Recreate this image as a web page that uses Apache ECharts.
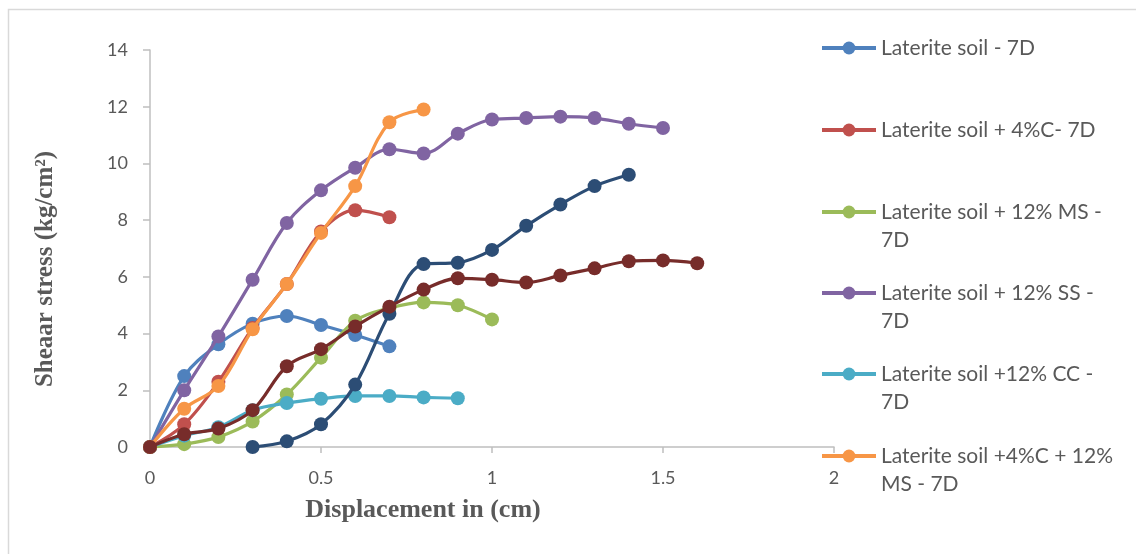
<!DOCTYPE html>
<html>
<head>
<meta charset="utf-8">
<script src="https://cdn.jsdelivr.net/npm/echarts@6/dist/echarts.min.js"></script>
<style>html,body{margin:0;padding:0;background:#fff}#c{width:1136px;height:554px}</style>
</head>
<body>
<div id="c"></div>
<script>
// ---- data ----
const xTicks = [0, 0.5, 1, 1.5, 2];
const yTicks = [0, 2, 4, 6, 8, 10, 12, 14];

const names = [
  'Laterite soil - 7D',
  'Laterite soil + 4%C- 7D',
  'Laterite soil + 12% MS - 7D',
  'Laterite soil + 12% SS - 7D',
  'Laterite soil +12% CC - 7D',
  'Laterite soil +4%C + 12% MS - 7D',
  'Series 7',
  'Series 8'
];
const legendLines = [
  ['Laterite soil - 7D'],
  ['Laterite soil + 4%C- 7D'],
  ['Laterite soil + 12% MS -', '7D'],
  ['Laterite soil + 12% SS -', '7D'],
  ['Laterite soil +12% CC -', '7D'],
  ['Laterite soil +4%C + 12%', 'MS - 7D']
];

const dispSoil   = [0, 0.1, 0.2, 0.3, 0.4, 0.5, 0.6, 0.7];
const stressSoil = [0, 2.5, 3.62, 4.35, 4.62, 4.3, 3.95, 3.55];

const dispC   = [0, 0.1, 0.2, 0.3, 0.4, 0.5, 0.6, 0.7];
const stressC = [0, 0.8, 2.3, 4.2, 5.75, 7.6, 8.35, 8.1];

const dispMS   = [0, 0.1, 0.2, 0.3, 0.4, 0.5, 0.6, 0.7, 0.8, 0.9, 1.0];
const stressMS = [0, 0.1, 0.35, 0.9, 1.85, 3.15, 4.45, 4.9, 5.1, 5.0, 4.5];

const dispSS   = [0, 0.1, 0.2, 0.3, 0.4, 0.5, 0.6, 0.7, 0.8, 0.9, 1.0, 1.1, 1.2, 1.3, 1.4, 1.5];
const stressSS = [0, 2.0, 3.9, 5.9, 7.9, 9.05, 9.85, 10.5, 10.35, 11.05, 11.55, 11.6, 11.65, 11.6, 11.4, 11.25];

const dispCC   = [0, 0.1, 0.2, 0.3, 0.4, 0.5, 0.6, 0.7, 0.8, 0.9];
const stressCC = [0, 0.4, 0.7, 1.3, 1.55, 1.7, 1.8, 1.8, 1.75, 1.72];

const dispCMS   = [0, 0.1, 0.2, 0.3, 0.4, 0.5, 0.6, 0.7, 0.8];
const stressCMS = [0, 1.35, 2.15, 4.15, 5.75, 7.55, 9.2, 11.45, 11.9];

const disp7   = [0.3, 0.4, 0.5, 0.6, 0.7, 0.8, 0.9, 1.0, 1.1, 1.2, 1.3, 1.4];
const stress7 = [0, 0.2, 0.8, 2.2, 4.7, 6.45, 6.5, 6.95, 7.8, 8.55, 9.2, 9.6];

const disp8   = [0, 0.1, 0.2, 0.3, 0.4, 0.5, 0.6, 0.7, 0.8, 0.9, 1.0, 1.1, 1.2, 1.3, 1.4, 1.5, 1.6];
const stress8 = [0, 0.45, 0.65, 1.3, 2.85, 3.45, 4.25, 4.95, 5.55, 5.95, 5.9, 5.8, 6.05, 6.3, 6.55, 6.58, 6.48];

const colors = ['#4F81BD', '#C0504D', '#9BBB59', '#8064A2', '#4BACC6', '#F79646', '#2C4D75', '#772C2A'];

// ---- build ----
const xs = [dispSoil, dispC, dispMS, dispSS, dispCC, dispCMS, disp7, disp8];
const ys = [stressSoil, stressC, stressMS, stressSS, stressCC, stressCMS, stress7, stress8];
const zip = (a, b) => a.map((v, i) => [v, b[i]]);

const series = names.map((n, i) => ({
  name: n,
  type: 'line',
  data: zip(xs[i], ys[i]),
  smooth: 0.35,
  symbol: 'circle',
  symbolSize: 14,
  itemStyle: { color: colors[i] },
  lineStyle: { color: colors[i], width: 3.2 },
  emphasis: { disabled: true },
  z: 2 + i
}));

const legendCenters = [48, 130, 212, 293, 374, 456];
const LH = 28;
const legends = legendLines.map((lines, i) => {
  const two = lines.length > 1;
  return {
    orient: 'vertical',
    left: 820,
    top: legendCenters[i] - (two ? 42 : 14),
    padding: 0,
    itemWidth: 54,
    itemHeight: 16,
    itemGap: 0,
    selectedMode: false,
    data: [names[i]],
    lineStyle: { width: 4 },
    formatter: () => two ? '\n' + lines.join('\n') : lines[0],
    textStyle: {
      fontFamily: 'Lato, "Open Sans", sans-serif',
      fontSize: 21,
      color: '#595959',
      lineHeight: LH
    }
  };
});

const tickFont = { fontFamily: 'Lato, "Open Sans", sans-serif', fontSize: 18, color: '#595959' };

const option = {
  animation: false,
  backgroundColor: '#fff',
  grid: { left: 150, top: 50, width: 684, height: 397, containLabel: false },
  xAxis: {
    type: 'value', min: 0, max: 2, interval: 0.5,
    axisLine: { show: true, onZero: false, lineStyle: { color: '#BFBFBF', width: 1.5 } },
    axisTick: { show: true, length: 6, lineStyle: { color: '#BFBFBF', width: 1.5 } },
    splitLine: { show: false },
    axisLabel: Object.assign({ margin: 22, formatter: v => xTicks.includes(v) ? String(v) : '' }, tickFont)
  },
  yAxis: {
    type: 'value', min: 0, max: 14, interval: 2,
    axisLine: { show: true, lineStyle: { color: '#BFBFBF', width: 1.5 } },
    axisTick: { show: true, length: 7, lineStyle: { color: '#BFBFBF', width: 1.5 } },
    splitLine: { show: false },
    axisLabel: Object.assign({ margin: 22, formatter: v => yTicks.includes(v) ? String(v) : '' }, tickFont)
  },
  legend: legends,
  graphic: [
    { type: 'rect', shape: { x: 8.5, y: 9.5, width: 1200, height: 600 }, style: { fill: 'none', stroke: '#D9D9D9', lineWidth: 1.5 }, silent: true, z: -10 },
    { type: 'text', x: 423, y: 510, style: { text: 'Displacement in (cm)', font: 'bold 26px "Liberation Serif", "DejaVu Serif", serif', fill: '#595959', align: 'center', verticalAlign: 'middle' } },
    { type: 'text', x: 46, y: 269, rotation: Math.PI / 2, style: { text: 'Sheaar stress (kg/cm²)', font: 'bold 25px "Liberation Serif", "DejaVu Serif", serif', fill: '#595959', align: 'center', verticalAlign: 'middle' } }
  ],
  series: series
};

echarts.init(document.getElementById('c'), null, { renderer: 'canvas' }).setOption(option);
</script>
</body>
</html>
